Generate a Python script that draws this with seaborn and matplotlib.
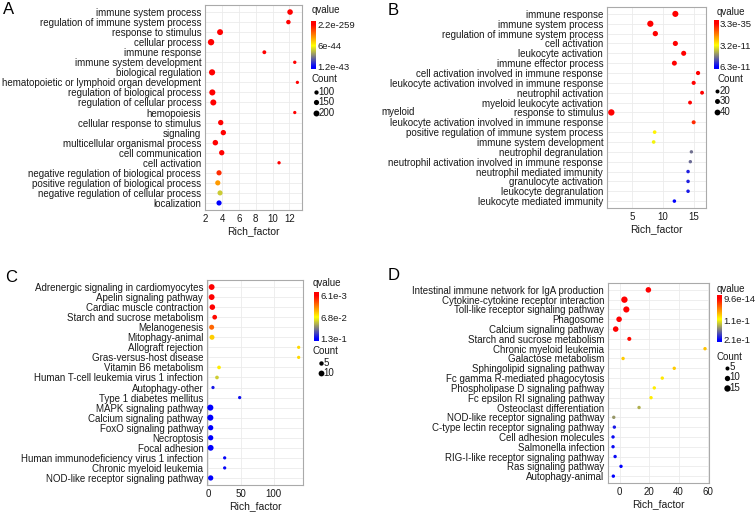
import matplotlib
matplotlib.use("Agg")
import matplotlib.pyplot as plt
import seaborn as sns
import pandas as pd
from matplotlib.colors import LinearSegmentedColormap, Normalize
from matplotlib.cm import ScalarMappable

W, H = 755, 516

# ---- panel A: GO terms ----
A_terms = ["immune system process", "regulation of immune system process", "response to stimulus",
           "cellular process", "immune response", "immune system development", "biological regulation",
           "hematopoietic or lymphoid organ development", "regulation of biological process",
           "regulation of cellular process", "hemopoiesis", "cellular response to stimulus", "signaling",
           "multicellular organismal process", "cell communication", "cell activation",
           "negative regulation of biological process", "positive regulation of biological process",
           "negative regulation of cellular process", "localization"]
A_rich = [12.08, 11.88, 3.75, 2.68, 9.02, 12.64, 2.80, 12.95, 2.83, 2.95,
          12.64, 3.83, 4.14, 3.19, 3.95, 10.77, 3.63, 3.48, 3.75, 3.63]
A_count = [175, 110, 200, 230, 80, 60, 215, 55, 210, 205,
           55, 160, 160, 170, 160, 58, 150, 150, 145, 150]
A_q = [3.1e-200, 8.5e-150, 1.6e-180, 2.2e-259, 4.0e-120, 2.5e-90, 6.3e-230, 1.1e-80, 3.3e-225, 7.9e-210,
       5.2e-85, 2.7e-160, 4.4e-150, 1.9e-140, 6.1e-150, 3.7e-75, 1.0e-44, 3.6e-44, 7.2e-44, 1.2e-43]
A_qticks = [2.2e-259, 6e-44, 1.2e-43]
A_qlabels = ["2.2e-259", "6e-44", "1.2e-43"]
A_legend = [100, 150, 200]

# ---- panel B: GO terms ----
B_terms = ["immune response", "immune system process", "regulation of immune system process",
           "cell activation", "leukocyte activation", "immune effector process",
           "cell activation involved in immune response", "leukocyte activation involved in immune response",
           "neutrophil activation", "myeloid leukocyte activation", "response to stimulus",
           "leukocyte activation involved in immune response", "positive regulation of immune system process",
           "immune system development", "neutrophil degranulation",
           "neutrophil activation involved in immune response", "neutrophil mediated immunity",
           "granulocyte activation", "leukocyte degranulation", "leukocyte mediated immunity"]
B_rich = [12.03, 7.97, 8.78, 12.03, 13.38, 11.87, 15.71, 15.0, 16.36, 14.41,
          1.64, 15.0, 8.67, 8.51, 14.63, 14.46, 14.09, 14.09, 14.09, 11.87]
B_count = [44, 46, 34, 32, 31, 30, 22, 21, 19, 19,
           48, 20, 17, 17, 15, 15, 16, 16, 16, 16]
B_q = [3.3e-35, 1.2e-33, 5.6e-30, 2.1e-28, 7.4e-27, 3.9e-24, 1.5e-20, 8.2e-19, 4.6e-18, 2.3e-17,
       9.1e-32, 5.0e-12, 3.0e-11, 3.3e-11, 4.9e-11, 5.0e-11, 5.9e-11, 5.9e-11, 6.0e-11, 6.3e-11]
B_qticks = [3.3e-35, 3.2e-11, 6.3e-11]
B_qlabels = ["3.3e-35", "3.2e-11", "6.3e-11"]
B_legend = [20, 30, 40]

# ---- panel C: KEGG pathways ----
C_terms = ["Adrenergic signaling in cardiomyocytes", "Apelin signaling pathway", "Cardiac muscle contraction",
           "Starch and sucrose metabolism", "Melanogenesis", "Mitophagy-animal", "Allograft rejection",
           "Gras-versus-host disease", "Vitamin B6 metabolism", "Human T-cell leukemia virus 1 infection",
           "Autophagy-other", "Type 1 diabetes mellitus", "MAPK signaling pathway", "Calcium signaling pathway",
           "FoxO signaling pathway", "Necroptosis", "Focal adhesion",
           "Human immunodeficiency virus 1 infection", "Chronic myeloid leukemia",
           "NOD-like receptor signaling pathway"]
C_rich = [5.6, 5.6, 6.6, 10.2, 5.6, 6.1, 138, 138, 16.8, 13.7,
          7.6, 48.2, 3.6, 3.6, 4.1, 4.1, 4.1, 25.4, 25.4, 4.1]
C_count = [10, 10, 9, 6, 7, 7, 2, 2, 3, 3, 2, 2, 11, 11, 8, 8, 10, 2, 2, 8]
C_q = [0.0061, 0.0061, 0.0065, 0.0085, 0.031, 0.056, 0.059, 0.059, 0.064, 0.080,
       0.124, 0.126, 0.13, 0.13, 0.13, 0.13, 0.13, 0.128, 0.128, 0.13]
C_qticks = [6.1e-3, 6.8e-2, 1.3e-1]
C_qlabels = ["6.1e-3", "6.8e-2", "1.3e-1"]
C_legend = [5, 10]

# ---- panel D: KEGG pathways ----
D_terms = ["Intestinal immune network for IgA production", "Cytokine-cytokine receptor interaction",
           "Toll-like receptor signaling pathway", "Phagosome", "Calcium signaling pathway",
           "Starch and sucrose metabolism", "Chronic myeloid leukemia", "Galactose metabolism",
           "Sphingolipid signaling pathway", "Fc gamma R-mediated phagocytosis",
           "Phospholipase D signaling pathway", "Fc epsilon RI signaling pathway", "Osteoclast differentiation",
           "NOD-like receptor signaling pathway", "C-type lectin receptor signaling pathway",
           "Cell adhesion molecules", "Salmonella infection", "RIG-I-like receptor signaling pathway",
           "Ras signaling pathway", "Autophagy-animal"]
D_rich = [19.5, 3.3, 4.6, -0.3, -2.6, 6.6, 57.8, 2.4, 37.0, 28.9,
          23.5, 21.3, 13.2, -3.9, -3.5, -4.4, -4.4, -3.0, 1.0, -4.2]
D_count = [11, 15, 14, 11, 11, 5, 3, 3, 3, 3, 3, 3, 3, 3, 3, 3, 3, 3, 3, 3]
D_q = [9.6e-14, 2.4e-12, 5.1e-11, 3.8e-9, 7.2e-8, 4.0e-3, 0.080, 0.084, 0.084, 0.096,
       0.098, 0.098, 0.138, 0.148, 0.20, 0.205, 0.205, 0.205, 0.21, 0.21]
D_qticks = [9.6e-14, 1.1e-1, 2.1e-1]
D_qlabels = ["9.6e-14", "1.1e-1", "2.1e-1"]
D_legend = [5, 10, 15]

sns.set_theme(style="white")
plt.rcParams['font.family'] = ['Liberation Sans', 'DejaVu Sans']
plt.rcParams['font.size'] = 7

TXT = "#1a1a1a"
PAD_TOP, PAD_BOT = 0.08, 0.05


def rect(x0, y0, x1, y1):
    # pixel box (top-left origin) -> figure fraction
    return [x0 / W, 1 - y1 / H, (x1 - x0) / W, (y1 - y0) / H]


def fx(x):
    return x / W


def fy(y):
    return 1 - y / H


def q_scale(qticks):
    # colour range a little wider than the labelled breaks, as in the ggplot bar
    r = qticks[-1] - qticks[0]
    lo, hi = qticks[0] - PAD_TOP * r, qticks[-1] + PAD_BOT * r
    f0 = PAD_TOP / (1 + PAD_TOP + PAD_BOT)
    f2 = (1 + PAD_TOP) / (1 + PAD_TOP + PAD_BOT)
    cm = LinearSegmentedColormap.from_list(
        "qv", [(0, "#ff0000"), (f0, "#ff0000"), ((f0 + f2) / 2, "#ffff00"), (f2, "#0000ff"), (1, "#0000ff")])
    return Normalize(lo, hi), cm


def draw_panel(fig, letter, letter_xy, box, cbox, terms, rich, count, q, qticks, qlabels,
               xlim, xticks, size_norm, sizes, legend_counts, qtitle_xy, ctitle_xy, leg_x, leg_ys):
    ax = fig.add_axes(rect(*box))
    n = len(terms)
    df = pd.DataFrame({"row": range(n), "Rich_factor": rich, "Count": count, "qvalue": q})
    norm, cm = q_scale(qticks)
    sns.scatterplot(data=df, x="Rich_factor", y="row", hue="qvalue", palette=cm, hue_norm=norm,
                    size="Count", sizes=sizes, size_norm=size_norm, linewidth=0, legend=False,
                    ax=ax, zorder=3)
    ax.set_yticks(range(n))
    ax.set_yticklabels(terms)
    ax.set_ylim(n - 1 + 0.7, -0.7)
    ax.set_xticks(xticks)
    ax.set_xlim(*xlim)
    ax.set_ylabel("")
    ax.set_xlabel("Rich_factor", fontsize=7.5, labelpad=1.5, color=TXT)
    ax.grid(True, color="#ebebeb", lw=0.6)
    ax.set_axisbelow(True)
    ax.tick_params(axis="both", length=1.5, width=0.5, color="#555555", pad=1.2,
                   labelsize=7, labelcolor=TXT)
    for sp in ax.spines.values():
        sp.set_color("#aaaaaa")
        sp.set_linewidth(0.8)

    # colour bar, smallest qvalue (red) on top
    cax = fig.add_axes(rect(*cbox))
    cb = fig.colorbar(ScalarMappable(norm=norm, cmap=cm), cax=cax)
    cb.set_ticks(qticks)
    cb.set_ticklabels(qlabels)
    cb.outline.set_visible(False)
    cax.invert_yaxis()
    cax.tick_params(length=0, pad=1, labelsize=6.8, labelcolor=TXT)

    fig.text(fx(qtitle_xy[0]), fy(qtitle_xy[1]), "qvalue", ha="left", va="center", fontsize=7, color=TXT)
    fig.text(fx(ctitle_xy[0]), fy(ctitle_xy[1]), "Count", ha="left", va="center", fontsize=7, color=TXT)

    # size legend, same area scale as the points
    lo, hi = size_norm
    for c, yy in zip(legend_counts, leg_ys):
        s = sizes[0] + (c - lo) / (hi - lo) * (sizes[1] - sizes[0])
        ax.scatter([fx(leg_x)], [fy(yy)], s=s, color="black", linewidth=0,
                   transform=fig.transFigure, clip_on=False)
        fig.text(fx(leg_x + 2.5), fy(yy), str(c), ha="left", va="center", fontsize=7, color=TXT)

    fig.text(fx(letter_xy[0]), fy(letter_xy[1]), letter, ha="left", va="center", fontsize=12, color="black")
    return ax


fig = plt.figure(figsize=(W / 100, H / 100), dpi=100)

draw_panel(fig, "A", (3, 10), (205, 5, 302, 210), (311, 21, 316, 69),
           A_terms, A_rich, A_count, A_q, A_qticks, A_qlabels,
           (1.96, 13.5), [2, 4, 6, 8, 10, 12], (55, 230), (5.5, 21), A_legend,
           (312, 10), (311, 79), 316, [92, 102, 113])

axB = draw_panel(fig, "B", (388, 10.5), (607, 7, 706, 208), (714, 20, 718.5, 69),
                 B_terms, B_rich, B_count, B_q, B_qticks, B_qlabels,
                 (0.94, 17.0), [5, 10, 15], (15, 48), (6, 21), B_legend,
                 (716.5, 12), (718, 79), 717, [91, 101, 112])
axB.annotate("myeloid", xy=(381.7 / W, 10), xycoords=("figure fraction", "data"),
             ha="left", va="center", fontsize=7, color=TXT, annotation_clip=False)

draw_panel(fig, "C", (5, 277.5), (207, 280, 303, 485), (314, 292, 319, 341),
           C_terms, C_rich, C_count, C_q, C_qticks, C_qlabels,
           (-1.5, 144.6), [0, 50, 100], (2, 11), (5.5, 19), C_legend,
           (313, 283), (312.5, 351), 321, [362.7, 372.7])

draw_panel(fig, "D", (388, 276), (608, 283, 709, 483), (717, 295, 722, 342),
           D_terms, D_rich, D_count, D_q, D_qticks, D_qlabels,
           (-7.8, 60.5), [0, 20, 40, 60], (3, 15), (6, 21), D_legend,
           (716.5, 288.5), (716.5, 356.7), 727, [367.5, 377.5, 388])

fig.savefig("out.png", dpi=100)
